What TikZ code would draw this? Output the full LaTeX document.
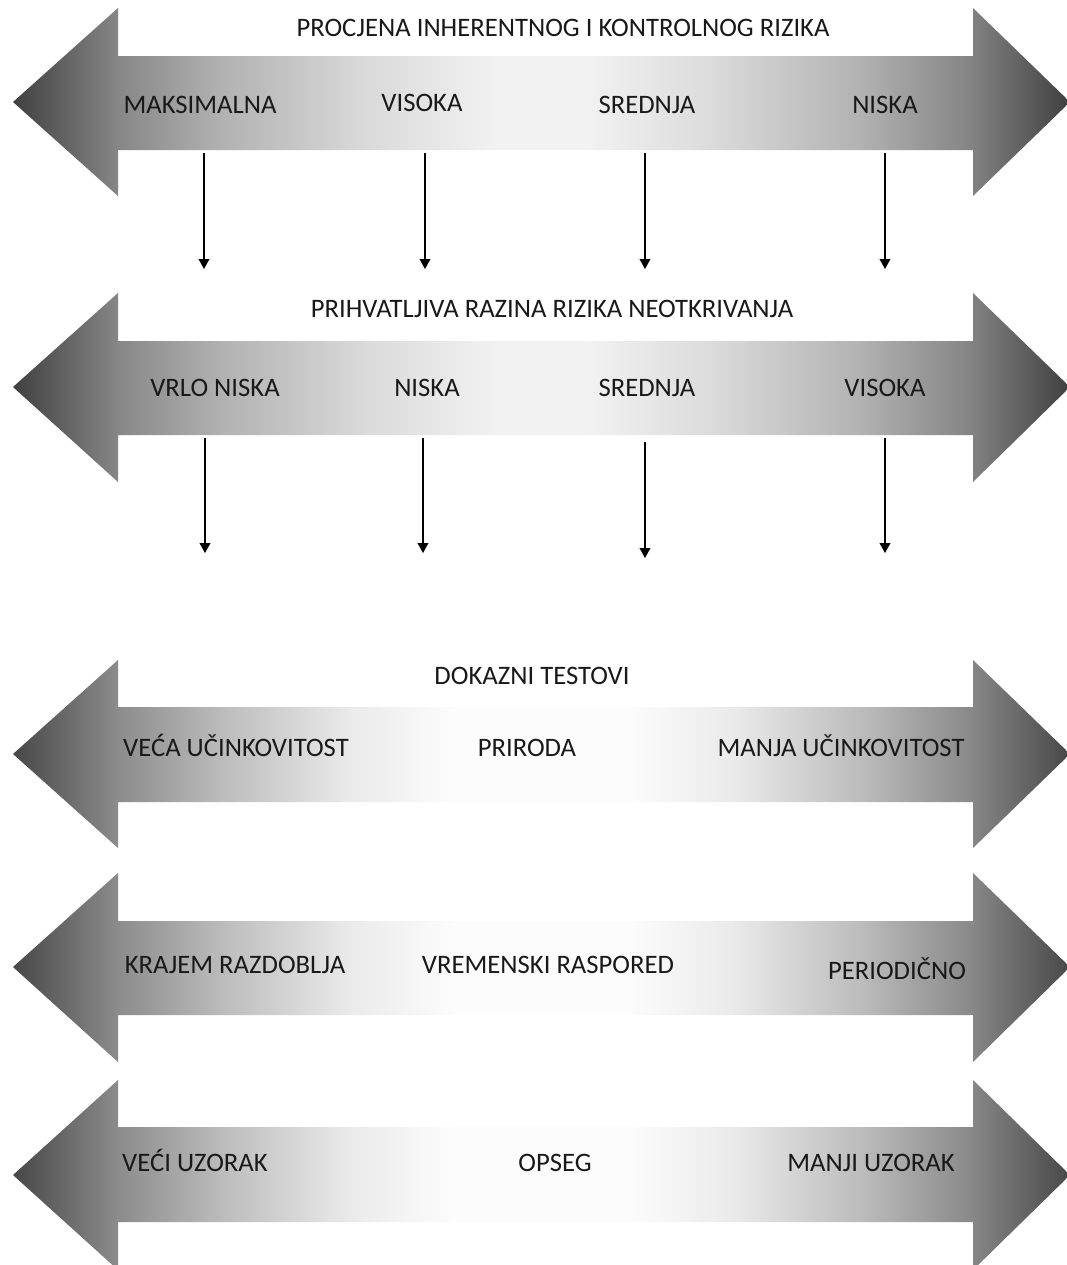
\documentclass[tikz,border=0pt]{standalone}
\usepackage{fontspec}
\setmainfont{Carlito}
\usetikzlibrary{arrows.meta}
\pgfdeclarehorizontalshading{shadeA}{100bp}{%
color(0bp)=(black!75); color(25bp)=(black!75); color(30bp)=(black!47);
color(35bp)=(black!30); color(42bp)=(black!14); color(48bp)=(black!5);
color(52bp)=(black!5); color(58bp)=(black!14); color(65bp)=(black!30);
color(70bp)=(black!47); color(75bp)=(black!75); color(100bp)=(black!75)}
\pgfdeclarehorizontalshading{shadeB}{100bp}{%
color(0bp)=(black!72); color(25bp)=(black!72); color(30bp)=(black!45);
color(35bp)=(black!26); color(41bp)=(black!8); color(46bp)=(black!1);
color(54bp)=(black!1); color(59bp)=(black!8); color(65bp)=(black!26);
color(70bp)=(black!45); color(75bp)=(black!72); color(100bp)=(black!72)}
\tikzset{
  lbl/.style={inner sep=0pt, text height=0.7em, text depth=0pt, yshift=-3.4pt,
    font=\fontsize{20}{24}\selectfont, text=black!90},
  conn/.style={line width=1.1pt, -{Triangle[width=8pt,length=7.5pt]}},
}
% #1 shading, #2 top of head, #3 shaft top, #4 centre, #5 shaft bottom, #6 head bottom
\newcommand{\dblarrow}[6]{%
  \path[shading=#1] (13,#4) -- (118,#2) -- (118,#3) -- (973,#3) -- (973,#2) -- (1070,#4)
    -- (973,#6) -- (973,#5) -- (118,#5) -- (118,#6) -- cycle;}
\begin{document}
\begin{tikzpicture}[x=0.75pt,y=-0.75pt]
\useasboundingbox (0,0) rectangle (1067,1265);
\fill[white] (0,0) rectangle (1067,1265);

\dblarrow{shadeA}{8}{56}{102}{150}{196}
\dblarrow{shadeA}{293}{341}{387}{435}{482}
\dblarrow{shadeB}{660}{707}{754}{802}{848}
\dblarrow{shadeB}{873}{921}{967}{1015}{1062}
\dblarrow{shadeB}{1080}{1127}{1175}{1222}{1270}

% row 1
\node[lbl] (t1) at (563,27) {PROCJENA INHERENTNOG I KONTROLNOG RIZIKA};
\node[lbl] (r1a) at (200,104) {MAKSIMALNA};
\node[lbl] (r1b) at (422,102) {VISOKA};
\node[lbl] (r1c) at (647,104) {SREDNJA};
\node[lbl] (r1d) at (885,104) {NISKA};

% row 2
\node[lbl] (t2) at (552,308) {PRIHVATLJIVA RAZINA RIZIKA NEOTKRIVANJA};
\node[lbl] (r2a) at (215,387) {VRLO NISKA};
\node[lbl] (r2b) at (427,387) {NISKA};
\node[lbl] (r2c) at (647,387) {SREDNJA};
\node[lbl] (r2d) at (885,387) {VISOKA};

% row 3
\node[lbl] (t3) at (532,675) {DOKAZNI TESTOVI};
\node[lbl] (r3a) at (236,747) {VEĆA UČINKOVITOST};
\node[lbl] (r3b) at (527,747) {PRIRODA};
\node[lbl] (r3c) at (841,747) {MANJA UČINKOVITOST};

% row 4
\node[lbl] (r4a) at (235,964) {KRAJEM RAZDOBLJA};
\node[lbl] (r4b) at (548,964) {VREMENSKI RASPORED};
\node[lbl] (r4c) at (897,970) {PERIODIČNO};

% row 5
\node[lbl] (r5a) at (195,1162) {VEĆI UZORAK};
\node[lbl] (r5b) at (555,1162) {OPSEG};
\node[lbl] (r5c) at (871,1162) {MANJI UZORAK};

% connectors 1 -> 2
\coordinate (a1) at (204,153); \coordinate (b1) at (204,269);
\coordinate (a2) at (425,153); \coordinate (b2) at (425,269);
\coordinate (a3) at (645,153); \coordinate (b3) at (645,269);
\coordinate (a4) at (885,153); \coordinate (b4) at (885,269);
\draw[conn] (a1) -- (b1);
\draw[conn] (a2) -- (b2);
\draw[conn] (a3) -- (b3);
\draw[conn] (a4) -- (b4);

% connectors below row 2
\coordinate (c1) at (205,438); \coordinate (d1) at (205,553);
\coordinate (c2) at (423,438); \coordinate (d2) at (423,553);
\coordinate (c3) at (645,442); \coordinate (d3) at (645,558);
\coordinate (c4) at (885,438); \coordinate (d4) at (885,553);
\draw[conn] (c1) -- (d1);
\draw[conn] (c2) -- (d2);
\draw[conn] (c3) -- (d3);
\draw[conn] (c4) -- (d4);
\end{tikzpicture}
\end{document}
